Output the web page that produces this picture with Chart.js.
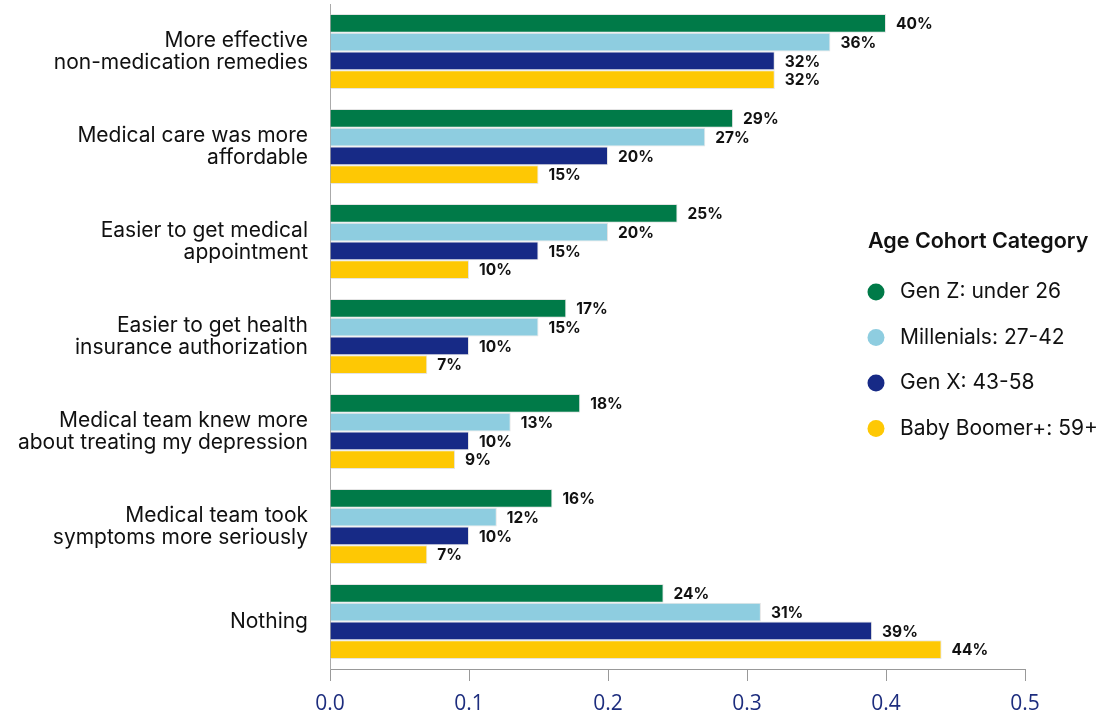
<!DOCTYPE html>
<html>
<head>
<meta charset="utf-8">
<script src="https://cdn.jsdelivr.net/npm/chart.js@4.4.1/dist/chart.umd.min.js"></script>
<style>
    html,body{margin:0;padding:0;background:#fff;}
    #wrap{width:1099px;height:715px;position:relative;}
</style>
</head>
<body>
<div id="wrap"><canvas id="cohortChart"></canvas></div>
<script>
const categories = [
    ["More effective","non-medication remedies"],
    ["Medical care was more","affordable"],
    ["Easier to get medical","appointment"],
    ["Easier to get health","insurance authorization"],
    ["Medical team knew more","about treating my depression"],
    ["Medical team took","symptoms more seriously"],
    "Nothing"
];
const seriesNames = ["Gen Z: under 26","Millenials: 27-42","Gen X: 43-58","Baby Boomer+: 59+"];
const genZ       = [0.40,0.29,0.25,0.17,0.18,0.16,0.24];
const millenials = [0.36,0.27,0.20,0.15,0.13,0.12,0.31];
const genX       = [0.32,0.20,0.15,0.10,0.10,0.10,0.39];
const boomers    = [0.32,0.15,0.10,0.07,0.09,0.07,0.44];
const xTicks = [0,0.1,0.2,0.3,0.4,0.5];
const colors = ["#007a48","#8ecde0","#172a86","#fec804"];

const LABEL_FONT = "Inter, 'Noto Sans', sans-serif";

// value labels at the end of each bar
const valueLabels = {
    id:"valueLabels",
    afterDatasetsDraw(chart){
        const ctx = chart.ctx;
        ctx.save();
        ctx.font = "700 15.5px " + LABEL_FONT;
        ctx.fillStyle = "#111";
        ctx.textBaseline = "middle";
        ctx.textAlign = "left";
        chart.data.datasets.forEach((ds,i)=>{
            chart.getDatasetMeta(i).data.forEach((bar,j)=>{
                ctx.fillText(Math.round(ds.data[j]*100)+"%", bar.x+10, bar.y+1);
            });
        });
        ctx.restore();
    }
};

// legend with circle markers inside the plot area
const cohortLegend = {
    id:"cohortLegend",
    afterDraw(chart){
        const ctx = chart.ctx;
        const x = 868, y0 = 242;
        ctx.save();
        ctx.textBaseline = "middle";
        ctx.textAlign = "left";
        ctx.fillStyle = "#111";
        ctx.font = "600 21.5px " + LABEL_FONT;
        ctx.fillText("Age Cohort Category", x, y0);
        ctx.font = "400 21px " + LABEL_FONT;
        chart.data.datasets.forEach((ds,i)=>{
            const y = y0 + 50 + i*45.5;
            ctx.beginPath();
            ctx.arc(x+8, y, 8.5, 0, Math.PI*2);
            ctx.fillStyle = ds.backgroundColor;
            ctx.fill();
            ctx.fillStyle = "#111";
            ctx.fillText(ds.label, x+32, y);
        });
        ctx.restore();
    }
};

const seriesData = [genZ, millenials, genX, boomers];

new Chart(document.getElementById("cohortChart"),{
    type:"bar",
    data:{
        labels:categories,
        datasets:seriesData.map((d,i)=>({
            label:seriesNames[i],
            data:d,
            backgroundColor:colors[i],
            borderColor:"#e4e4e4",
            borderWidth:1,
            barPercentage:1,
            categoryPercentage:0.79
        }))
    },
    options:{
        indexAxis:"y",
        responsive:true,
        maintainAspectRatio:false,
        animation:false,
        layout:{ padding:{ top:4, right:74, left:0, bottom:0 } },
        plugins:{
            legend:{ display:false },
            tooltip:{ enabled:false }
        },
        scales:{
            x:{
                min:0,
                max:0.5,
                afterBuildTicks(scale){
                    scale.ticks = xTicks.map(v=>({value:v}));
                },
                afterFit(scale){ scale.height = 46; },
                grid:{
                    drawOnChartArea:false,
                    drawTicks:true,
                    tickLength:12,
                    color:"#999"
                },
                border:{ display:true, color:"#999" },
                ticks:{
                    padding:10,
                    color:"#1d2d7e",
                    font:{ family:"'Open Sans', sans-serif", size:21 },
                    callback:v=>Number(v).toFixed(1)
                }
            },
            y:{
                afterFit(scale){
                    scale.width = 330;
                    // multi-line labels should not push the plot down
                    scale.paddingTop = 0;
                    scale.paddingBottom = 0;
                },
                grid:{ display:false, drawTicks:false },
                border:{ display:true, color:"#aaa" },
                ticks:{
                    padding:22,
                    color:"#111",
                    font:{ family:LABEL_FONT, size:21, lineHeight:1.05 }
                }
            }
        }
    },
    plugins:[valueLabels, cohortLegend]
});
</script>
</body>
</html>
